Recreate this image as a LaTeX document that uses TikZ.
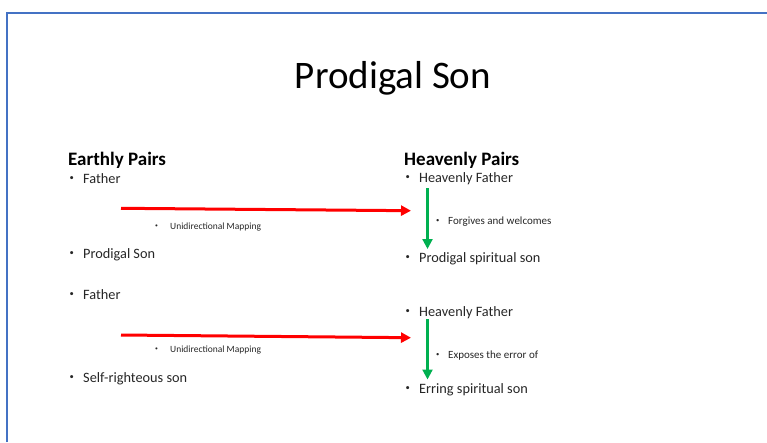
\documentclass[tikz,border=0pt]{standalone}
\usepackage{fontspec}
\setmainfont{Carlito}
\usetikzlibrary{arrows.meta}
\definecolor{frameblue}{HTML}{4472C4}
\definecolor{mapred}{HTML}{FF0000}
\definecolor{relgreen}{HTML}{00B050}
\newcommand{\bul}[1]{\makebox[#1][l]{\raisebox{0.18em}{\scalebox{0.6}{\textbullet}}}}
\begin{document}
\begin{tikzpicture}[x=1pt,y=-1pt,
  head/.style={anchor=base west,inner sep=0pt,font=\fontsize{19}{22}\selectfont\bfseries},
  item/.style={anchor=base west,inner sep=0pt,font=\fontsize{14.3}{16}\selectfont,text=black!85},
  subitem/.style={anchor=base west,inner sep=0pt,font=\fontsize{9.5}{11}\selectfont,text=black!85},
  subitemr/.style={subitem,font=\fontsize{11}{13}\selectfont},
  maparrow/.style={draw=mapred,line width=3pt,-{Triangle[length=10pt,width=10pt]}},
  relarrow/.style={draw=relgreen,line width=2.2pt,-{Triangle[length=10pt,width=10pt]}}]
 \useasboundingbox (0,0) rectangle (767,442); %page
 \draw[frameblue,line width=2pt] (7,442)--(7,12.5)--(767,12.5); %frame
 \node[anchor=base,inner sep=0pt,font=\fontsize{39}{44}\selectfont] (T) at (393,88) {Prodigal Son}; %title
 % earthly side
 \node[head] (EP) at (68,165) {Earthly Pairs};
 \node[item] (F1) at (69.5,183) {\bul{13.5pt}Father};
 \node[subitem] (U1) at (155,229) {\bul{15pt}Unidirectional Mapping};
 \node[item] (PS) at (69.5,258) {\bul{13.5pt}Prodigal Son};
 \node[item] (F2) at (69.5,299) {\bul{13.5pt}Father};
 \node[subitem] (U2) at (155,352) {\bul{15pt}Unidirectional Mapping};
 \node[item] (SR) at (69.5,382) {\bul{13.5pt}Self-righteous son};
 % heavenly side
 \node[head] (HP) at (404,165) {Heavenly Pairs};
 \node[item] (HF1) at (405.5,182) {\bul{13.5pt}Heavenly Father};
 \node[subitemr] (FW) at (436,224) {\bul{12pt}Forgives and welcomes};
 \node[item] (PSS) at (405.5,262) {\bul{13.5pt}Prodigal spiritual son};
 \node[item] (HF2) at (405.5,316) {\bul{13.5pt}Heavenly Father};
 \node[subitemr] (EE) at (436,358) {\bul{12pt}Exposes the error of};
 \node[item] (ES) at (405.5,393) {\bul{13.5pt}Erring spiritual son};
 % arrow ends
 \coordinate (R1s) at (121,208.3);
 \coordinate (R1e) at (411,210.7);
 \coordinate (R2s) at (121,335);
 \coordinate (R2e) at (411,337.7);
 \coordinate (G1s) at (427.5,188);
 \coordinate (G1e) at (427.5,249);
 \coordinate (G2s) at (427.5,319);
 \coordinate (G2e) at (427.5,379.5);
 \draw[maparrow] (R1s)--(R1e); %mapping 1
 \draw[maparrow] (R2s)--(R2e); %mapping 2
 \draw[relarrow] (G1s)--(G1e); %forgives
 \draw[relarrow] (G2s)--(G2e); %exposes
\end{tikzpicture}
\end{document}
